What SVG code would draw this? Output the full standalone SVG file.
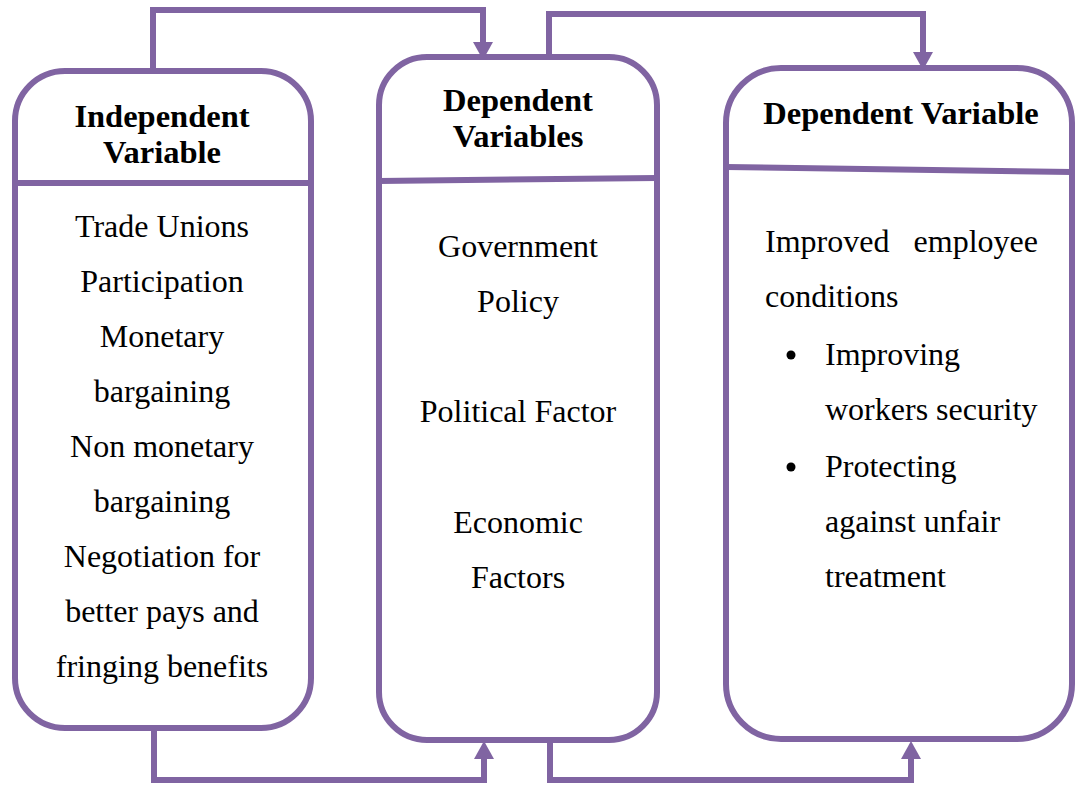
<svg xmlns="http://www.w3.org/2000/svg" width="1077" height="786" viewBox="0 0 1077 786">
<style>
.box{fill:#fff;stroke:#8064A2;stroke-width:6}
.div{stroke:#8064A2;stroke-width:6;fill:none}
.conn{stroke:#8064A2;stroke-width:6;fill:none;stroke-linejoin:miter}
.h{font-family:"Liberation Serif","Times New Roman",serif;font-weight:bold;font-size:32.5px;fill:#000;text-anchor:middle}
.t{font-family:"Liberation Serif","Times New Roman",serif;font-size:32px;fill:#000}
.c{text-anchor:middle}
</style>
<defs>
<marker id="arr" markerUnits="userSpaceOnUse" markerWidth="18" markerHeight="20" viewBox="0 0 18 20" refX="0" refY="10" orient="auto">
<path d="M0,0 L18,10 L0,20 z" fill="#8064A2"/>
</marker>
</defs>
<rect width="1077" height="786" fill="#fff"/>
<g id="connectors">
<path class="conn" d="M153,68 V10 H483 V42" marker-end="url(#arr)"/>
<path class="conn" d="M549,56 V14 H923 V52" marker-end="url(#arr)"/>
<path class="conn" d="M154,728 V780 H484 V759" marker-end="url(#arr)"/>
<path class="conn" d="M550,740 V780 H911 V759" marker-end="url(#arr)"/>
</g>
<g id="independent">
<rect class="box" x="15" y="71" width="296" height="657" rx="50" ry="50"/>
<line class="div" x1="15" y1="183" x2="311" y2="183"/>
<text class="h" x="162" y="127">Independent</text>
<text class="h" x="162" y="163">Variable</text>
<text class="t c" x="162" y="237">Trade Unions</text>
<text class="t c" x="162" y="292">Participation</text>
<text class="t c" x="162" y="347">Monetary</text>
<text class="t c" x="162" y="402">bargaining</text>
<text class="t c" x="162" y="457">Non monetary</text>
<text class="t c" x="162" y="512">bargaining</text>
<text class="t c" x="162" y="567">Negotiation for</text>
<text class="t c" x="162" y="622">better pays and</text>
<text class="t c" x="162" y="677">fringing benefits</text>
</g>
<g id="mediating">
<rect class="box" x="379" y="57" width="278" height="683" rx="48" ry="48"/>
<line class="div" x1="379" y1="181" x2="657" y2="178"/>
<text class="h" x="518" y="111">Dependent</text>
<text class="h" x="518" y="147">Variables</text>
<text class="t c" x="518" y="257">Government</text>
<text class="t c" x="518" y="312">Policy</text>
<text class="t c" x="518" y="422">Political Factor</text>
<text class="t c" x="518" y="533">Economic</text>
<text class="t c" x="518" y="588">Factors</text>
</g>
<g id="dependent">
<rect class="box" x="726" y="68" width="346" height="671" rx="55" ry="55"/>
<line class="div" x1="726" y1="167" x2="1072" y2="172"/>
<text class="h" x="901" y="124">Dependent Variable</text>
<text class="t" x="765" y="252">Improved</text>
<text class="t" x="1038" y="252" text-anchor="end">employee</text>
<text class="t" x="765" y="307">conditions</text>
<circle cx="791" cy="355" r="4.5" fill="#000"/>
<text class="t" x="825" y="365">Improving</text>
<text class="t" x="825" y="420">workers security</text>
<circle cx="791" cy="467" r="4.5" fill="#000"/>
<text class="t" x="825" y="477">Protecting</text>
<text class="t" x="825" y="532">against unfair</text>
<text class="t" x="825" y="587">treatment</text>
</g>
</svg>
